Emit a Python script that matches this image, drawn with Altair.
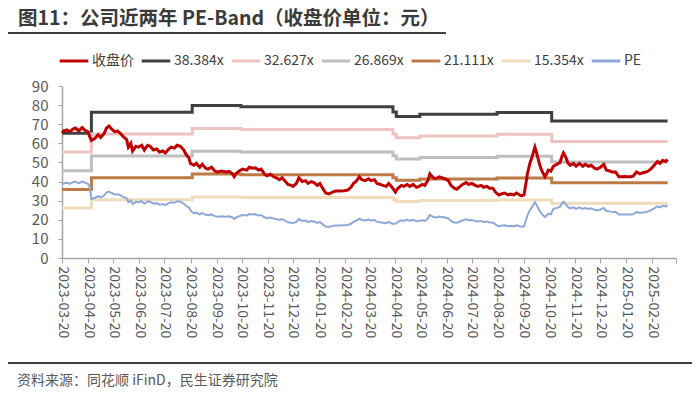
import altair as alt
import pandas as pd

# ---------------- data ----------------
dates = [
    "2023-03-20", "2023-03-22", "2023-03-26", "2023-03-29", "2023-04-02", "2023-04-05", "2023-04-09", "2023-04-13", "2023-04-16", "2023-04-20",
    "2023-04-22", "2023-04-24", "2023-04-28", "2023-05-02", "2023-05-05", "2023-05-09", "2023-05-12", "2023-05-15", "2023-05-18", "2023-05-22",
    "2023-05-25", "2023-05-29", "2023-06-01", "2023-06-05", "2023-06-07", "2023-06-10", "2023-06-12", "2023-06-16", "2023-06-19", "2023-06-23",
    "2023-06-26", "2023-06-30", "2023-07-03", "2023-07-07", "2023-07-11", "2023-07-14", "2023-07-18", "2023-07-21", "2023-07-25", "2023-07-28",
    "2023-08-01", "2023-08-04", "2023-08-08", "2023-08-12", "2023-08-15", "2023-08-18", "2023-08-20", "2023-08-24", "2023-08-27", "2023-08-31",
    "2023-09-03", "2023-09-07", "2023-09-10", "2023-09-14", "2023-09-18", "2023-09-21", "2023-09-26", "2023-10-01", "2023-10-05", "2023-10-09",
    "2023-10-11", "2023-10-14", "2023-10-17", "2023-10-21", "2023-10-26", "2023-10-29", "2023-11-02", "2023-11-05", "2023-11-09", "2023-11-12",
    "2023-11-16", "2023-11-19", "2023-11-23", "2023-11-27", "2023-11-30", "2023-12-04", "2023-12-07", "2023-12-11", "2023-12-14", "2023-12-18",
    "2023-12-20", "2023-12-24", "2023-12-27", "2023-12-31", "2024-01-04", "2024-01-07", "2024-01-11", "2024-01-14", "2024-01-18", "2024-01-21",
    "2024-01-25", "2024-01-28", "2024-02-01", "2024-02-05", "2024-02-09", "2024-02-14", "2024-02-19", "2024-02-23", "2024-02-27", "2024-03-01",
    "2024-03-04", "2024-03-08", "2024-03-11", "2024-03-15", "2024-03-19", "2024-03-22", "2024-03-26", "2024-03-29", "2024-04-02", "2024-04-05",
    "2024-04-09", "2024-04-12", "2024-04-16", "2024-04-20", "2024-04-23", "2024-04-27", "2024-04-30", "2024-05-04", "2024-05-07", "2024-05-11",
    "2024-05-15", "2024-05-18", "2024-05-22", "2024-05-25", "2024-05-29", "2024-05-31", "2024-06-04", "2024-06-07", "2024-06-11", "2024-06-14",
    "2024-06-18", "2024-06-22", "2024-06-25", "2024-06-29", "2024-07-02", "2024-07-06", "2024-07-09", "2024-07-13", "2024-07-16", "2024-07-20",
    "2024-07-24", "2024-07-27", "2024-07-31", "2024-08-03", "2024-08-07", "2024-08-10", "2024-08-14", "2024-08-17", "2024-08-21", "2024-08-24",
    "2024-08-28", "2024-09-01", "2024-09-04", "2024-09-08", "2024-09-11", "2024-09-15", "2024-09-17", "2024-09-20", "2024-09-22", "2024-09-24",
    "2024-09-27", "2024-09-29", "2024-10-01", "2024-10-03", "2024-10-05", "2024-10-08", "2024-10-10", "2024-10-12", "2024-10-15", "2024-10-17",
    "2024-10-19", "2024-10-22", "2024-10-25", "2024-10-29", "2024-11-02", "2024-11-04", "2024-11-06", "2024-11-09", "2024-11-11", "2024-11-14",
    "2024-11-18", "2024-11-21", "2024-11-25", "2024-11-29", "2024-12-02", "2024-12-06", "2024-12-09", "2024-12-13", "2024-12-16", "2024-12-20",
    "2024-12-24", "2024-12-27", "2024-12-31", "2025-01-03", "2025-01-07", "2025-01-11", "2025-01-14", "2025-01-18", "2025-01-21", "2025-01-25",
    "2025-01-28", "2025-02-01", "2025-02-05", "2025-02-08", "2025-02-12", "2025-02-15", "2025-02-19", "2025-02-22", "2025-02-26", "2025-03-01",
    "2025-03-04", "2025-03-08", "2025-03-10",
]

close = [
    65.4, 66.5, 67.0, 66.0, 67.5, 68.0, 66.5, 68.2, 67.0, 66.0,
    63.5, 61.5, 62.5, 64.5, 63.0, 65.0, 68.0, 69.0, 67.5, 66.0,
    66.5, 65.0, 63.5, 62.0, 58.0, 60.0, 56.0, 58.5, 58.0, 59.0,
    56.5, 59.0, 58.5, 56.5, 57.0, 55.5, 56.0, 55.0, 57.0, 58.0,
    57.5, 59.0, 58.5, 56.5, 54.0, 52.5, 49.5, 48.5, 49.5, 47.5,
    49.0, 47.0, 46.5, 47.5, 45.5, 45.0, 45.5, 45.0, 45.3, 44.0,
    42.5, 44.5, 45.5, 46.5, 46.0, 47.5, 47.0, 47.2, 46.0, 46.5,
    44.0, 43.0, 43.8, 42.5, 42.0, 41.0, 42.0, 40.0, 38.5, 38.0,
    37.5, 39.0, 42.0, 40.0, 40.5, 39.0, 40.0, 39.5, 38.0, 39.0,
    36.0, 34.0, 33.5, 34.5, 35.0, 35.0, 35.2, 35.5, 37.0, 39.0,
    40.0, 42.5, 41.0, 40.5, 41.5, 40.5, 41.0, 39.0, 38.5, 38.0,
    37.5, 39.0, 37.0, 34.5, 36.5, 38.0, 37.5, 38.5, 37.5, 38.5,
    37.0, 37.5, 38.5, 38.0, 41.0, 44.0, 42.0, 41.5, 42.5, 42.0,
    41.5, 40.5, 38.0, 36.5, 36.0, 37.5, 38.5, 39.5, 38.5, 39.0,
    38.0, 37.5, 38.0, 37.0, 37.5, 36.5, 36.5, 34.5, 33.0, 33.5,
    34.0, 33.0, 33.5, 33.0, 34.0, 33.0, 32.5, 33.0, 38.0, 44.0,
    49.5, 52.0, 55.0, 58.0, 55.0, 50.0, 47.0, 45.0, 42.5, 44.0,
    46.0, 45.5, 48.0, 49.0, 50.0, 53.0, 55.0, 52.5, 50.0, 48.5,
    49.5, 48.0, 49.5, 48.0, 49.0, 48.0, 48.5, 47.0, 46.5, 47.5,
    49.0, 46.0, 45.5, 45.0, 45.0, 42.5, 42.5, 42.6, 42.5, 42.5,
    42.8, 45.0, 44.0, 44.5, 45.0, 45.5, 47.0, 48.5, 50.5, 49.5,
    51.0, 50.5, 51.5,
]

pe = [
    38.5, 39.1, 39.4, 38.8, 39.7, 40.0, 39.1, 40.1, 39.4, 38.8,
    37.3, 30.9, 31.4, 32.4, 31.7, 32.7, 34.2, 34.7, 34.0, 33.2,
    33.4, 32.7, 31.9, 31.2, 29.2, 30.2, 28.2, 29.4, 29.2, 29.7,
    28.4, 29.7, 29.4, 28.4, 28.7, 27.9, 28.2, 27.7, 28.7, 29.2,
    28.9, 29.7, 29.4, 28.4, 27.2, 26.4, 24.9, 23.3, 23.8, 22.8,
    23.6, 22.6, 22.4, 22.8, 21.9, 21.6, 21.9, 21.6, 21.8, 21.2,
    20.4, 21.4, 21.9, 22.5, 22.3, 23.0, 22.8, 22.9, 22.3, 22.5,
    21.3, 20.8, 21.2, 20.6, 20.4, 19.9, 20.4, 19.4, 18.7, 18.4,
    18.2, 18.9, 20.4, 19.4, 19.6, 18.9, 19.4, 19.1, 18.4, 18.9,
    17.4, 16.5, 16.2, 16.7, 17.0, 17.0, 17.1, 17.2, 17.9, 18.9,
    19.4, 20.6, 19.9, 19.6, 20.1, 19.6, 19.9, 18.9, 18.7, 18.4,
    18.2, 18.9, 17.9, 17.9, 18.9, 19.7, 19.5, 20.0, 19.5, 20.0,
    19.2, 19.5, 19.7, 19.4, 20.9, 22.5, 21.4, 21.2, 21.7, 21.4,
    21.2, 20.7, 19.4, 18.6, 18.4, 19.1, 19.7, 20.2, 19.7, 19.9,
    19.4, 19.1, 19.4, 18.9, 19.1, 18.6, 18.6, 17.6, 16.6, 16.9,
    17.1, 16.6, 16.9, 16.6, 17.1, 16.6, 16.4, 16.6, 19.2, 22.2,
    25.0, 26.2, 27.7, 29.2, 27.7, 25.2, 23.7, 22.7, 21.4, 22.2,
    23.2, 22.9, 25.7, 26.2, 26.8, 28.4, 29.4, 28.1, 26.8, 26.0,
    26.5, 25.7, 26.5, 25.7, 26.2, 25.7, 26.0, 25.2, 24.9, 25.4,
    26.2, 24.6, 24.4, 24.1, 24.1, 22.8, 22.8, 22.8, 22.8, 22.8,
    22.9, 24.1, 23.6, 23.8, 24.1, 24.4, 25.2, 26.0, 27.0, 26.5,
    27.3, 27.0, 27.6,
]

band_dates = ["2023-03-20", "2023-04-24", "2023-08-22", "2023-10-19", "2024-04-17",
              "2024-04-21", "2024-05-19", "2024-08-19", "2024-10-23", "2025-03-10"]
band_38 = [65.3, 76.3, 79.8, 79.2, 76.4, 74.0, 75.2, 76.1, 71.7, 71.7]
band_32 = [55.5, 64.9, 67.8, 67.3, 64.9, 62.9, 63.9, 64.7, 60.9, 60.9]
band_26 = [45.7, 53.4, 55.9, 55.4, 53.5, 51.8, 52.6, 53.3, 50.2, 50.2]
band_21 = [35.9, 42.0, 43.9, 43.6, 42.0, 40.7, 41.4, 41.9, 39.4, 39.4]
band_15 = [26.1, 30.5, 31.9, 31.7, 30.6, 29.6, 30.1, 30.4, 28.7, 28.7]

series_names = ["收盘价", "38.384x", "32.627x", "26.869x", "21.111x", "15.354x", "PE"]
series_colors = ["#C00000", "#404040", "#F0C3C3", "#BFBFBF", "#BC7A45", "#EFDDBB", "#8FA8DA"]

y_ticks = [0, 10, 20, 30, 40, 50, 60, 70, 80, 90]

title_text = "图11：公司近两年 PE-Band（收盘价单位：元）"
source_text = "资料来源：同花顺 iFinD，民生证券研究院"

assert len(dates) == len(close) == len(pe)

# ---------------- tables ----------------
price_df = pd.DataFrame({"date": dates, "value": close, "series": series_names[0]})
pe_df = pd.DataFrame({"date": dates, "value": pe, "series": series_names[6]})
band_rows = []
for name, vals in zip(series_names[1:6], [band_38, band_32, band_26, band_21, band_15]):
    for d, v in zip(band_dates, vals):
        band_rows.append({"date": d, "value": v, "series": name})
band_df = pd.DataFrame(band_rows)

# ---------------- encodings ----------------
FONT = "Noto Sans CJK SC"
x_values = []
for i in range(25):
    m = 3 + i
    x_values.append(alt.DateTime(year=2023 + (m - 1) // 12, month=(m - 1) % 12 + 1, date=20, utc=True))

X = alt.X(
    "date:T",
    scale=alt.Scale(type="utc",
                    domain=[alt.DateTime(year=2023, month=3, date=20, utc=True),
                            alt.DateTime(year=2025, month=3, date=20, utc=True)]),
    axis=alt.Axis(
        values=x_values,
        labelExpr="datum.value > utc(2025,2,1) ? '' : utcFormat(datum.value, '%Y-%m-%d')",
        labelAngle=90,
        labelFontSize=14,
        labelColor="#595959",
        labelFont=FONT,
        labelPadding=3,
        labelOverlap=False,
        tickSize=5,
        tickColor="#A6A6A6",
        domainColor="#A6A6A6",
        domainWidth=1.5,
        grid=False,
        title=None,
    ),
)
Y = alt.Y(
    "value:Q",
    scale=alt.Scale(domain=[0, 90], nice=False, zero=True),
    axis=alt.Axis(
        values=y_ticks,
        labelFontSize=15,
        labelColor="#595959",
        labelFont=FONT,
        labelPadding=10,
        tickSize=4,
        tickColor="#A6A6A6",
        domainColor="#A6A6A6",
        domainWidth=1.5,
        grid=False,
        title=None,
    ),
)
legend = alt.Legend(
    title=None,
    orient="none",
    legendX=-4,
    legendY=-41,
    direction="horizontal",
    symbolType="stroke",
    symbolStrokeWidth=3,
    symbolSize=820,
    labelFontSize=14,
    labelFont=FONT,
    labelColor="#404040",
    labelOffset=2,
    columnPadding=1,
)
C = alt.Color("series:N", scale=alt.Scale(domain=series_names, range=series_colors), legend=legend)

bands = alt.Chart(band_df).mark_line(interpolate="step-after", strokeWidth=3).encode(x=X, y=Y, color=C)
pe_line = alt.Chart(pe_df).mark_line(strokeWidth=2).encode(x=X, y=Y, color=C)
price_line = alt.Chart(price_df).mark_line(strokeWidth=3).encode(x=X, y=Y, color=C)

one = pd.DataFrame({"t": [title_text]})
title = alt.Chart(one).mark_text(
    align="left", baseline="top", font=FONT, fontSize=19.5, fontWeight="bold", color="#3A3A3A"
).encode(text="t:N", x=alt.value(-44), y=alt.value(-76))
underline = alt.Chart(one).mark_rule(color="#404040", strokeWidth=2).encode(
    x=alt.value(-54), x2=alt.value(384), y=alt.value(-53)
)
src = pd.DataFrame({"t": [source_text]})
source = alt.Chart(src).mark_text(
    align="left", baseline="middle", font=FONT, fontSize=14, color="#595959"
).encode(text="t:N", x=alt.value(-45), y=alt.value(295))
footer_line = alt.Chart(src).mark_rule(color="#404040", strokeWidth=2).encode(
    x=alt.value(-54), x2=alt.value(630), y=alt.value(277)
)

chart = alt.layer(bands, pe_line, price_line, title, underline, source, footer_line).properties(
    width=614,
    height=172,
    padding={"left": 54, "top": 78, "right": 16, "bottom": 136},
    autosize=alt.AutoSizeParams(type="none"),
    background="white",
).configure_view(stroke=None)

chart.save("out.html", embed_options={"renderer": "svg", "actions": False})
